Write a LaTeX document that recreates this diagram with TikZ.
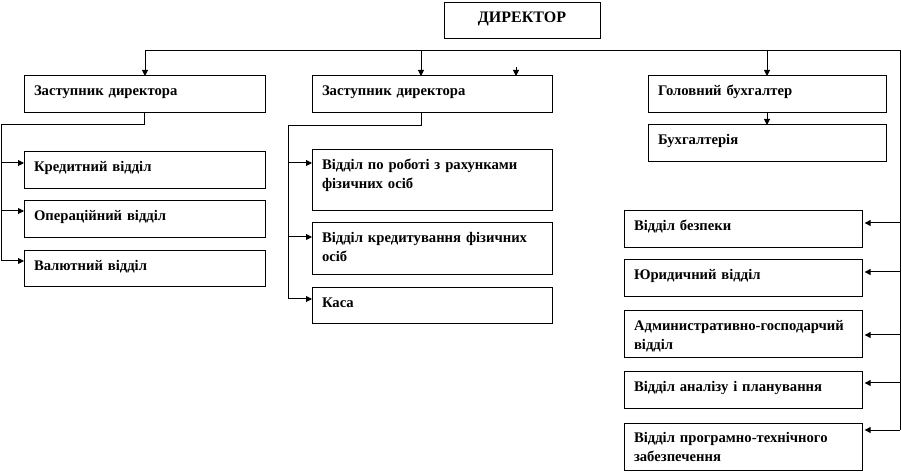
\documentclass[tikz,border=0pt]{standalone}
\usepackage{fontspec}
\setmainfont{Liberation Serif}
\usetikzlibrary{arrows.meta}
\tikzset{
  ln/.style={line width=0.75pt},
  arr/.style={line width=0.75pt,-{Triangle[length=4.5pt,width=4.5pt]}},
  box/.style={draw,line width=0.75pt,anchor=north west,inner xsep=7.5pt,inner ysep=0pt,
    outer sep=0pt,align=left,text height=14.5pt,font=\bfseries\fontsize{11}{14.5}\selectfont},
  dirbox/.style={draw,line width=0.75pt,anchor=north west,inner sep=0pt,outer sep=0pt,
    minimum width=117pt,minimum height=27pt,text height=8.5pt,text depth=5.5pt,
    font=\bfseries\fontsize{12}{14}\selectfont}
}
\newcommand\obox[6]{%
  \pgfmathsetmacro\obw{(#4-#2)*0.75-15}%
  \pgfmathsetmacro\obd{(#5-#3)*0.75-14.5}%
  \node[box,text width=\obw pt,text depth=\obd pt] (#1) at (#2,#3) {#6};}
\begin{document}
\begin{tikzpicture}[x=0.75pt,y=-0.75pt]
\useasboundingbox (0,0) rectangle (902,473);
% boxes
\node[dirbox] (dir) at (444,3) {ДИРЕКТОР};
\obox{z1}{24}{76}{265}{113}{Заступник директора}
\obox{z2}{312}{76}{552}{113}{Заступник директора}
\obox{gb}{648}{76}{886}{113}{Головний бухгалтер}
\obox{bh}{648}{125}{886}{162}{Бухгалтерія}
\obox{kr}{24}{152}{265}{189}{Кредитний відділ}
\obox{op}{24}{201}{265}{238}{Операційний відділ}
\obox{va}{24}{251}{265}{287}{Валютний відділ}
\obox{fo}{312}{150}{552}{211}{\mbox{Відділ по роботі з рахунками}\\фізичних осіб}
\obox{kf}{312}{223}{552}{275}{\mbox{Відділ кредитування фізичних}\\осіб}
\obox{ks}{312}{288}{552}{324}{Каса}
\obox{rb1}{624}{211}{862}{248}{Відділ безпеки}
\obox{rb2}{624}{260}{862}{297}{Юридичний відділ}
\obox{rb3}{624}{311}{862}{358}{\mbox{Административно-господарчий}\\відділ}
\obox{rb4}{624}{372}{862}{408}{Відділ аналізу і планування}
\obox{rb5}{624}{423}{862}{470}{\mbox{Відділ програмно-технічного}\\забезпечення}
% coordinates
\coordinate (busL) at (145,51);
\coordinate (busR) at (900,51);
\coordinate (x2) at (421,51);
\coordinate (st) at (516,67);
\coordinate (l0) at (1,125);
\coordinate (la1) at (1,163);
\coordinate (la2) at (1,211);
\coordinate (la3) at (1,261);
\coordinate (m0) at (288,126);
\coordinate (ma1) at (288,163);
\coordinate (ma2) at (288,237);
\coordinate (ma3) at (288,299);
\coordinate (r1) at (900,223);
\coordinate (r2) at (900,272);
\coordinate (r3) at (900,335);
\coordinate (r4) at (900,383);
\coordinate (r5) at (900,430);
% top bus
\draw[ln] (busL) -- (busR) -- (r5);
\draw[arr] (busL) -- (busL |- z1.north);
\draw[arr] (x2) -- (x2 |- z2.north);
\draw[arr] (gb.north |- busL) -- (gb.north);
\draw[arr] (st) -- (st |- z2.north);
\draw[arr] (gb.south) -- (bh.north);
% left branch
\draw[ln] (z1.south) -- (z1.south |- l0) -- (l0) -- (la3);
\draw[arr] (la1) -- (la1 -| kr.west);
\draw[arr] (la2) -- (la2 -| op.west);
\draw[arr] (la3) -- (la3 -| va.west);
% middle branch
\draw[ln] (x2 |- z2.south) -- (x2 |- m0) -- (m0) -- (ma3);
\draw[arr] (ma1) -- (ma1 -| fo.west);
\draw[arr] (ma2) -- (ma2 -| kf.west);
\draw[arr] (ma3) -- (ma3 -| ks.west);
% right branch
\draw[arr,shorten >=2pt] (r1) -- (r1 -| rb1.east);
\draw[arr,shorten >=2pt] (r2) -- (r2 -| rb2.east);
\draw[arr,shorten >=2pt] (r3) -- (r3 -| rb3.east);
\draw[arr,shorten >=2pt] (r4) -- (r4 -| rb4.east);
\draw[arr,shorten >=2pt] (r5) -- (r5 -| rb5.east);
\end{tikzpicture}
\end{document}
